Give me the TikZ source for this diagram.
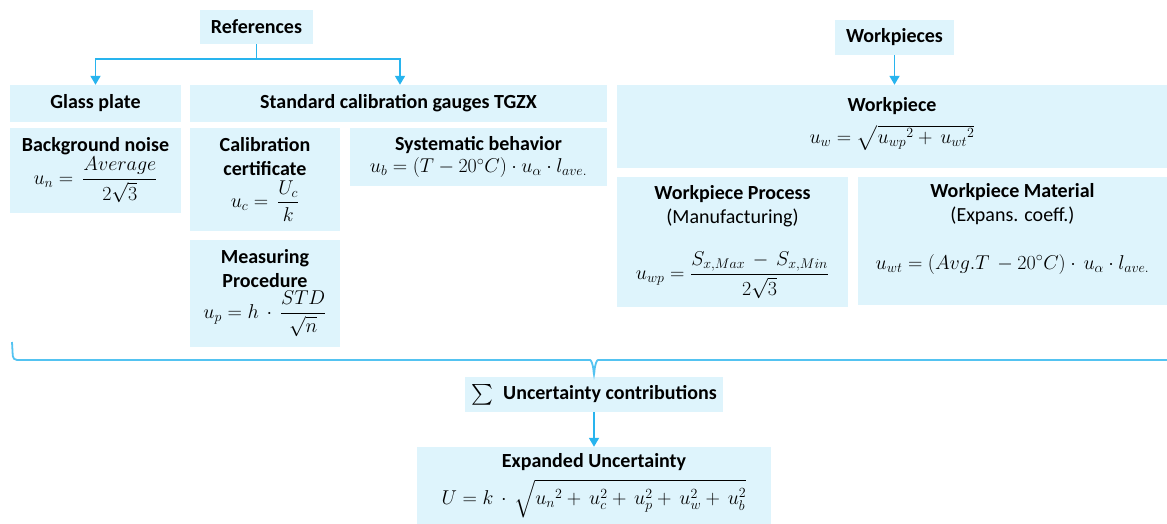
\RequirePackage{fix-cm}
\documentclass[tikz,border=0pt]{standalone}
\usepackage{fontspec}
\setmainfont{Carlito}
\usepackage{amsmath}
\usetikzlibrary{arrows.meta, positioning}
\definecolor{boxfill}{RGB}{222,244,252}
\definecolor{linkblue}{RGB}{40,180,238}
\tikzstyle{block} = [rectangle, fill=boxfill, inner sep=2pt, align=center, font=\fontsize{20}{24}\selectfont]
\tikzstyle{link} = [draw=linkblue, line width=1.8pt, -{Triangle[length=9pt, width=10pt]}]
\tikzstyle{brace} = [draw=linkblue!80, line width=1.8pt]

\begin{document}
\begin{tikzpicture}[x=1pt, y=-1pt]
  \useasboundingbox (0,0) rectangle (1167,524);

  % References
  \node[block, minimum width=113pt, minimum height=34pt] (ref) at (256.5,27) {\textbf{References}};
  \node[block, minimum width=171pt, minimum height=37pt] (glass) at (95.5,103.5) {\textbf{Glass plate}};
  \node[block, minimum width=417pt, minimum height=37pt] (tgzx) at (398.5,103.5) {\textbf{Standard calibration gauges TGZX}};
  \node[block, minimum width=171pt, minimum height=85pt] (noise) at (95.5,170.5)
    {\textbf{Background noise}\\[1pt] $u_n = \,\dfrac{Average}{2\sqrt{3}}$};
  \node[block, minimum width=150pt, minimum height=103pt] (cert) at (265,179.5)
    {\textbf{Calibration}\\ \textbf{certificate}\\[4pt] $u_c = \,\dfrac{U_c}{k}$};
  \node[block, minimum width=257pt, minimum height=58pt] (syst) at (478.5,157)
    {\textbf{Systematic behavior}\\[-2pt] $u_b = (T - 20^{\circ}C)\cdot u_\alpha \cdot l_{ave.}$};
  \node[block, minimum width=150pt, minimum height=107pt] (proc) at (265,293.5)
    {\textbf{Measuring}\\ \textbf{Procedure}\\[2pt] $u_p = h\,\cdot\,\dfrac{STD}{\sqrt{n}}$};

  % Workpieces
  \node[block, minimum width=119pt, minimum height=35pt] (wps) at (894.5,37.5) {\textbf{Workpieces}};
  \node[block, minimum width=550pt, minimum height=83pt, text depth=12pt] (wp) at (892,126.5)
    {\textbf{Workpiece}\\[8pt] $u_w = \sqrt{{u_{wp}}^2 + \,{u_{wt}}^2}$};
  \node[block, minimum width=231pt, minimum height=130pt] (wproc) at (732.5,242)
    {\textbf{Workpiece Process}\\ (Manufacturing)\\[24pt] $u_{wp} = \dfrac{S_{x,Max}\, - \,S_{x,Min}}{2\sqrt{3}}$};
  \node[block, minimum width=309pt, minimum height=128pt, text depth=30pt] (wmat) at (1012.5,241)
    {\textbf{Workpiece Material}\\ (Expans. coeff.)\\[24pt] $u_{wt} = (Avg.T\, - 20^{\circ}C)\cdot\, u_\alpha \cdot l_{ave.}$};

  % Summe
  \node[block, minimum width=258pt, minimum height=35pt] (sum) at (594,394.5)
    {$\sum$\enspace\textbf{Uncertainty contributions}};
  \node[block, minimum width=354pt, minimum height=77pt] (exp) at (594,485.5)
    {\textbf{Expanded Uncertainty}\\[8pt] $U = k\,\cdot\,\sqrt{{u_n}^2 + \,u_c^2 + \,u_p^2 + \,u_w^2 + \,u_b^2}$};

  % Pfeile
  \draw[link] (ref.south) -- ++(0,15) -| (glass.north);
  \draw[link] (ref.south) -- ++(0,15) -| ([xshift=1.5pt]tgzx.north);
  \draw[link] (wps.south) -- (wps.south |- wp.north);
  \draw[link] (sum.south) -- (exp.north);

  % Klammer
  \coordinate (bl) at (12,342);
  \coordinate (br) at (1167,360);
  \draw[brace, rounded corners=4pt] (bl) -- (13,360) -- (586,360)
    .. controls (591,360) and (593,363) .. (sum.north)
    .. controls (595,363) and (597,360) .. (602,360) -- (br);
\end{tikzpicture}
\end{document}
